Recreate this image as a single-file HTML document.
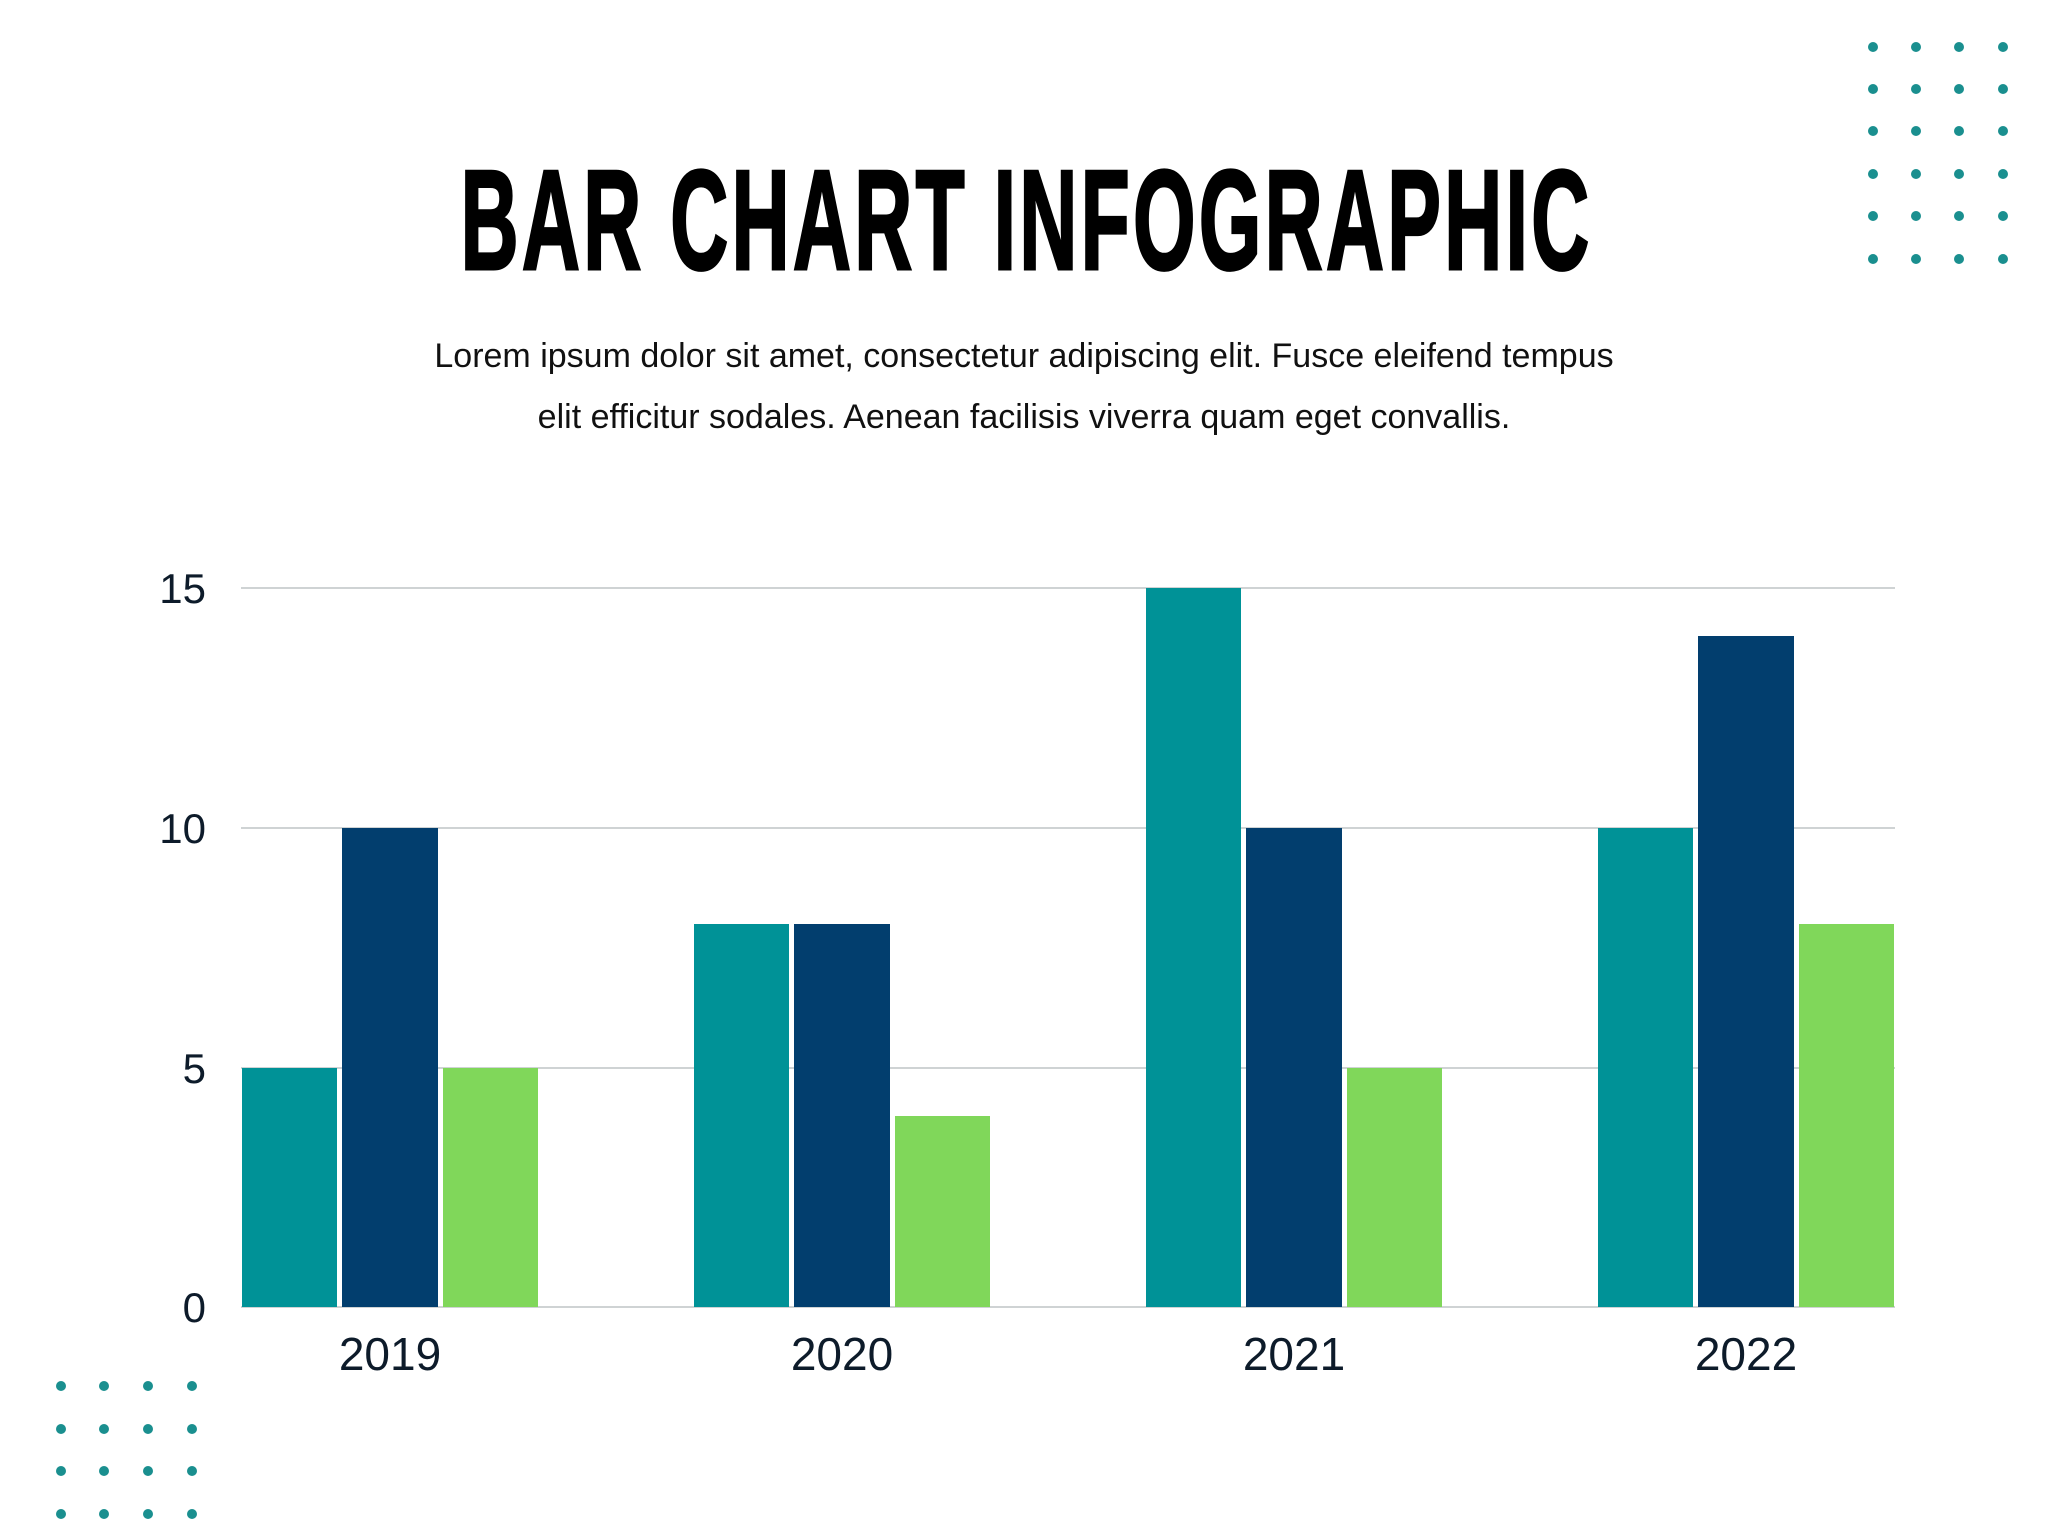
<!DOCTYPE html>
<html><head><meta charset="utf-8"><style>
html,body{margin:0;padding:0;background:#fff;}
body{width:2048px;height:1536px;position:relative;overflow:hidden;font-family:"Liberation Sans",sans-serif;}
.t{position:absolute;left:0;width:2048px;text-align:center;}
</style></head><body>
<div class="t" style="top:150px;font-weight:bold;font-size:142px;line-height:142px;letter-spacing:6px;transform:scaleX(0.565);transform-origin:1030px 0;color:#000;-webkit-text-stroke:3px #000;">BAR CHART INFOGRAPHIC</div>
<div class="t" style="top:326px;font-size:34px;line-height:61px;color:#111;">Lorem ipsum dolor sit amet, consectetur adipiscing elit. Fusce eleifend tempus<br>elit efficitur sodales. Aenean facilisis viverra quam eget convallis.</div>
<svg width="2048" height="1536" style="position:absolute;left:0;top:0">
<g fill="#1a8f8f">
<circle cx="1873" cy="47" r="5"/><circle cx="1916" cy="47" r="5"/><circle cx="1959" cy="47" r="5"/><circle cx="2003" cy="47" r="5"/>
<circle cx="1873" cy="89" r="5"/><circle cx="1916" cy="89" r="5"/><circle cx="1959" cy="89" r="5"/><circle cx="2003" cy="89" r="5"/>
<circle cx="1873" cy="131" r="5"/><circle cx="1916" cy="131" r="5"/><circle cx="1959" cy="131" r="5"/><circle cx="2003" cy="131" r="5"/>
<circle cx="1873" cy="174" r="5"/><circle cx="1916" cy="174" r="5"/><circle cx="1959" cy="174" r="5"/><circle cx="2003" cy="174" r="5"/>
<circle cx="1873" cy="216" r="5"/><circle cx="1916" cy="216" r="5"/><circle cx="1959" cy="216" r="5"/><circle cx="2003" cy="216" r="5"/>
<circle cx="1873" cy="259" r="5"/><circle cx="1916" cy="259" r="5"/><circle cx="1959" cy="259" r="5"/><circle cx="2003" cy="259" r="5"/>
<circle cx="61" cy="1386" r="5"/><circle cx="104" cy="1386" r="5"/><circle cx="148" cy="1386" r="5"/><circle cx="192" cy="1386" r="5"/>
<circle cx="61" cy="1429" r="5"/><circle cx="104" cy="1429" r="5"/><circle cx="148" cy="1429" r="5"/><circle cx="192" cy="1429" r="5"/>
<circle cx="61" cy="1471" r="5"/><circle cx="104" cy="1471" r="5"/><circle cx="148" cy="1471" r="5"/><circle cx="192" cy="1471" r="5"/>
<circle cx="61" cy="1514" r="5"/><circle cx="104" cy="1514" r="5"/><circle cx="148" cy="1514" r="5"/><circle cx="192" cy="1514" r="5"/>
</g>
<g stroke="#cfd3d4" stroke-width="2">
<line x1="241" y1="588" x2="1895" y2="588"/><line x1="241" y1="828" x2="1895" y2="828"/><line x1="241" y1="1068" x2="1895" y2="1068"/><line x1="241" y1="1307" x2="1895" y2="1307"/>
</g>
<g font-size="42" fill="#0d1b2a" text-anchor="end">
<text x="206" y="603">15</text><text x="206" y="843">10</text><text x="206" y="1083">5</text><text x="206" y="1322">0</text>
</g>
<g>
<rect x="242" y="1068" width="95" height="239" fill="#009297"/><rect x="342" y="828" width="96" height="479" fill="#023e6e"/><rect x="443" y="1068" width="95" height="239" fill="#80d75a"/>
<rect x="694" y="924" width="95" height="383" fill="#009297"/><rect x="794" y="924" width="96" height="383" fill="#023e6e"/><rect x="895" y="1116" width="95" height="191" fill="#80d75a"/>
<rect x="1146" y="588" width="95" height="719" fill="#009297"/><rect x="1246" y="828" width="96" height="479" fill="#023e6e"/><rect x="1347" y="1068" width="95" height="239" fill="#80d75a"/>
<rect x="1598" y="828" width="95" height="479" fill="#009297"/><rect x="1698" y="636" width="96" height="671" fill="#023e6e"/><rect x="1799" y="924" width="95" height="383" fill="#80d75a"/>
</g>
<g font-size="46" fill="#0d1b2a" text-anchor="middle">
<text x="390" y="1370">2019</text><text x="842" y="1370">2020</text><text x="1294" y="1370">2021</text><text x="1746" y="1370">2022</text>
</g>
</svg>
</body></html>
